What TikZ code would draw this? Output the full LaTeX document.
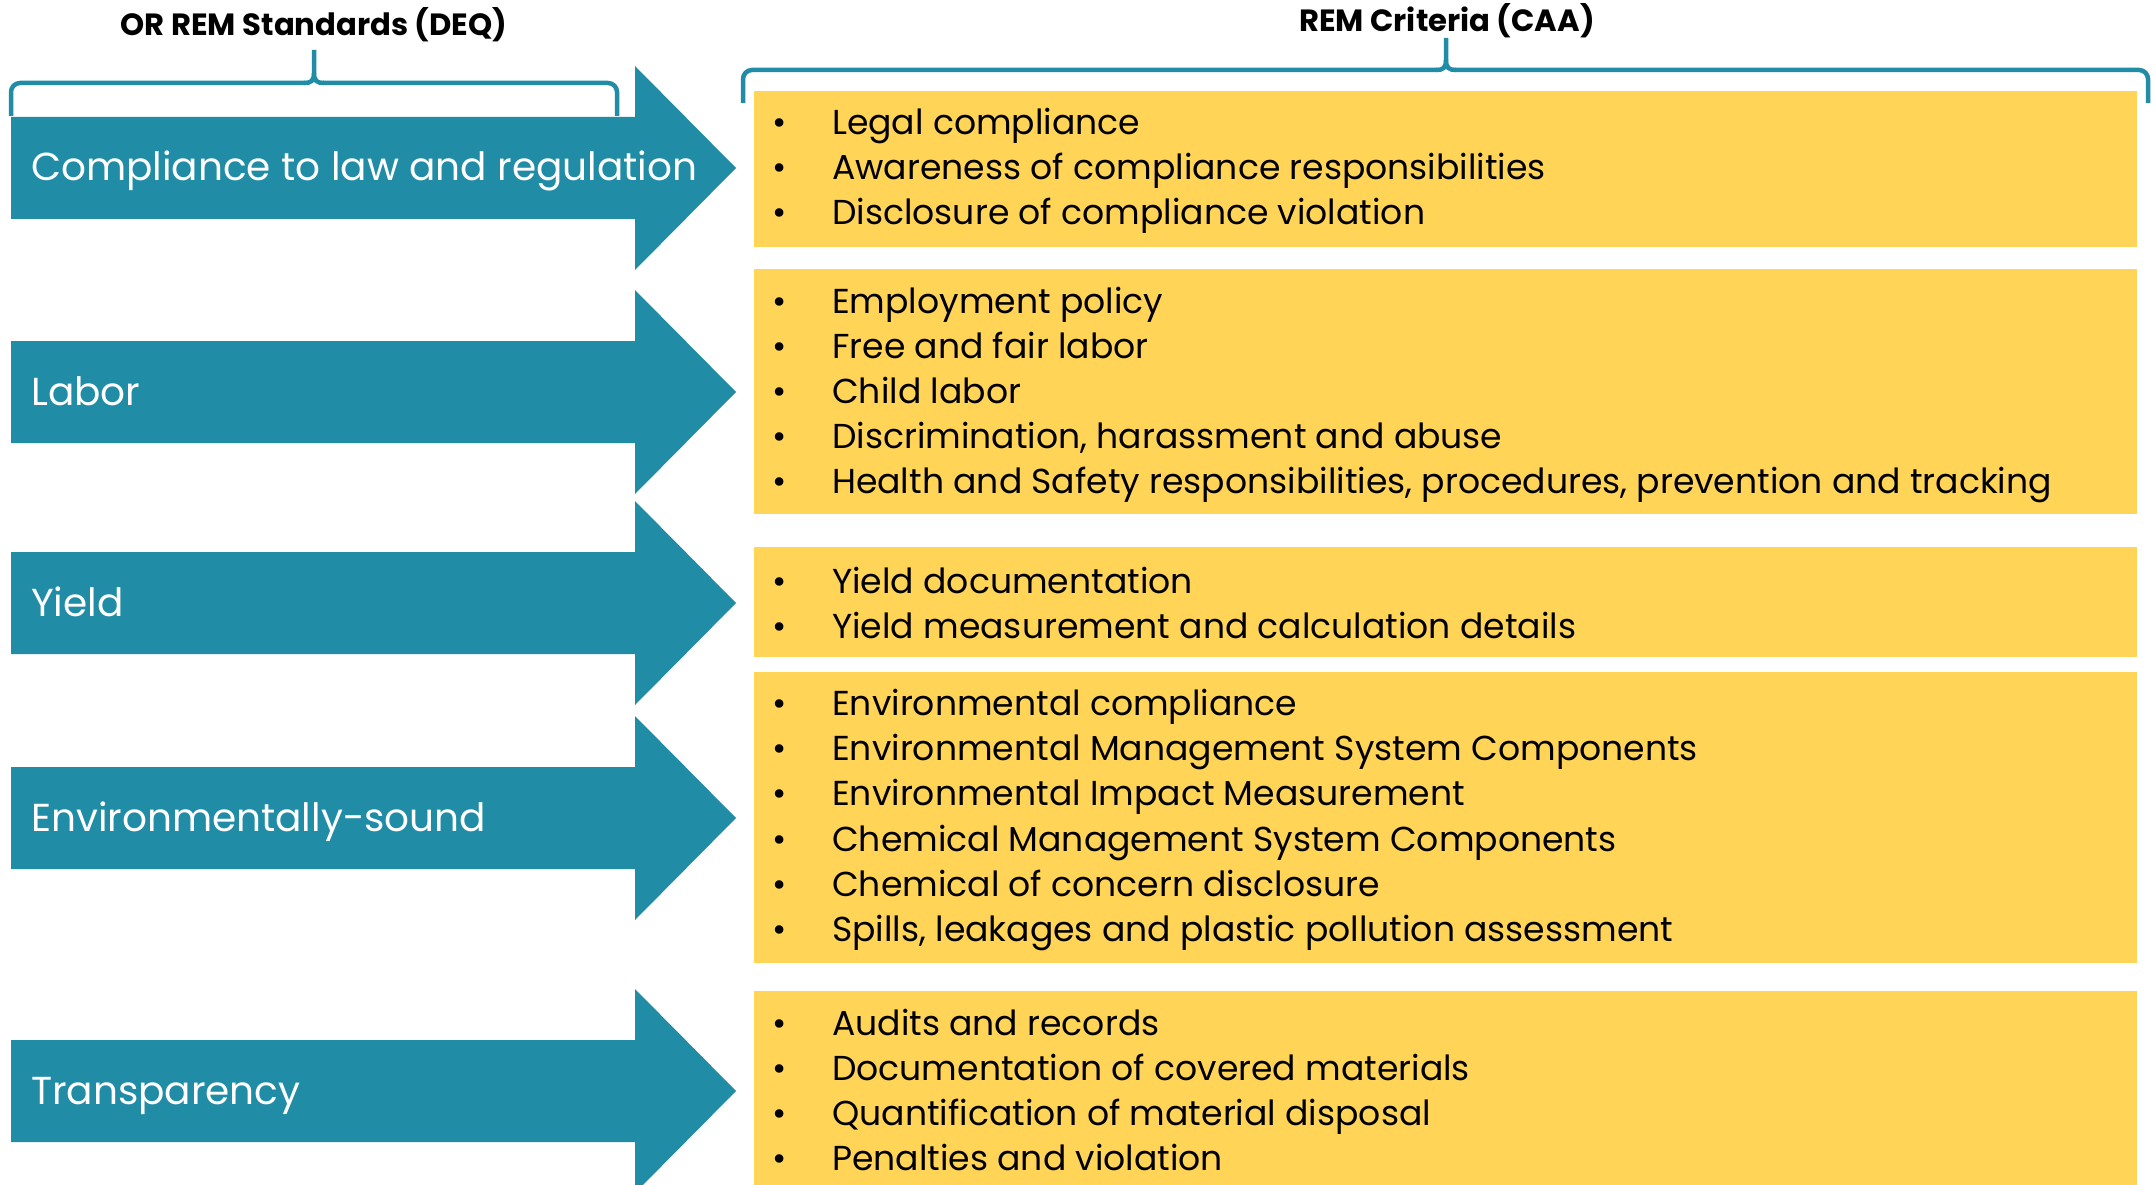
\documentclass[tikz,border=0pt]{standalone}
\usepackage{fontspec}
\setmainfont{Poppins}
\definecolor{tealc}{RGB}{33,140,165}
\definecolor{yellowc}{RGB}{255,212,87}
\tikzset{
  arrowfill/.style={fill=tealc},
  boxfill/.style={fill=yellowc},
  bracepath/.style={draw=tealc, line width=4.5pt, rounded corners=9pt},
  stdlabel/.style={text=white, anchor=base west, inner sep=0pt, font=\fontsize{39}{46}\selectfont},
  critlist/.style={anchor=west, inner sep=0pt, align=left, font=\fontsize{34.6}{45.1}\selectfont},
  titlelabel/.style={inner sep=0pt, font=\fontsize{30.7}{36}\selectfont\bfseries},
}
\newcommand\bul{\makebox[60pt][l]{\textbullet}}
\newcommand\stdarrow[3]{%
  \fill[arrowfill] (11,{#1-51}) -- (635,{#1-51}) -- (635,{#1-102}) -- (736,#1) -- (635,{#1+102}) -- (635,{#1+51}) -- (11,{#1+51}) -- cycle;
  \node[stdlabel] (#2) at (31,{#1+13}) {#3};
}
\begin{document}
\begin{tikzpicture}[x=1pt,y=-1pt]
\useasboundingbox (0,0) rectangle (2156,1185);
\fill[white] (0,0) rectangle (2156,1185);
% titles
\node[titlelabel] (tl) at (314,25) {OR REM Standards (DEQ)};
\node[titlelabel] (tr) at (1447,21) {REM Criteria (CAA)};
% braces
\draw[bracepath] (11,116) -- (11,83) -- (305,83);
\draw[draw=tealc, line width=4.5pt] (304,83) .. controls (311,83) and (314,81) .. (314,73) -- (314,50);
\draw[draw=tealc, line width=4.5pt] (314,73) .. controls (314,81) and (317,83) .. (324,83);
\draw[bracepath] (323,83) -- (617,83) -- (617,116);
\draw[bracepath] (743,103) -- (743,70) -- (1437,70);
\draw[draw=tealc, line width=4.5pt] (1436,70) .. controls (1443,70) and (1446,68) .. (1446,60) -- (1446,38);
\draw[draw=tealc, line width=4.5pt] (1446,60) .. controls (1446,68) and (1449,70) .. (1456,70);
\draw[bracepath] (1455,70) -- (2148,70) -- (2148,103);
% yellow boxes
\fill[boxfill] (754,91) rectangle (2137,247);
\fill[boxfill] (754,269) rectangle (2137,514);
\fill[boxfill] (754,547) rectangle (2137,657);
\fill[boxfill] (754,672) rectangle (2137,963);
\fill[boxfill] (754,991) rectangle (2137,1185);
% arrows
\stdarrow{168}{s1}{Compliance to law and regulation}
\stdarrow{392}{s2}{Labor}
\stdarrow{603}{s3}{Yield}
\stdarrow{818}{s4}{Environmentally-sound}
\stdarrow{1091}{s5}{Transparency}
% criteria
\node[critlist] (c1) at (772,171) {\bul Legal compliance\\\bul Awareness of compliance responsibilities\\\bul Disclosure of compliance violation};
\node[critlist] (c2) at (772,395) {\bul Employment policy\\\bul Free and fair labor\\\bul Child labor\\\bul Discrimination, harassment and abuse\\\bul Health and Safety responsibilities, procedures, prevention and tracking};
\node[critlist] (c3) at (772,603) {\bul Yield documentation\\\bul Yield measurement and calculation details};
\node[critlist] (c4) at (772,820) {\bul Environmental compliance\\\bul Environmental Management System Components\\\bul Environmental Impact Measurement\\\bul Chemical Management System Components\\\bul Chemical of concern disclosure\\\bul Spills, leakages and plastic pollution assessment};
\node[critlist] (c5) at (772,1090) {\bul Audits and records\\\bul Documentation of covered materials\\\bul Quantification of material disposal\\\bul Penalties and violation};
\end{tikzpicture}
\end{document}
